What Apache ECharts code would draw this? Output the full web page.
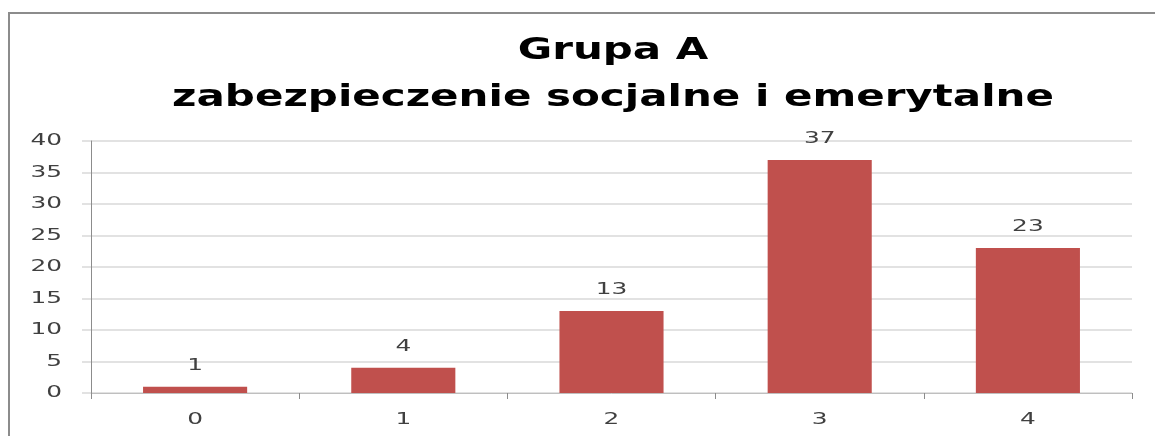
<!DOCTYPE html>
<html><head><meta charset="utf-8">
<script src="https://cdn.jsdelivr.net/npm/echarts@6/dist/echarts.min.js"></script>
<style>html,body{margin:0;padding:0;background:#fff}#c{width:1155px;height:436px}</style>
</head><body><div id="c"></div>
<script>
const titleLines = ["Grupa A", "zabezpieczenie socjalne i emerytalne"];
const categories = ["0", "1", "2", "3", "4"];
const values = [1, 4, 13, 37, 23];
const yTicks = [0, 5, 10, 15, 20, 25, 30, 35, 40];

const FONT = 'DejaVu Sans';
const LABEL_COLOR = '#404040';
const STRETCH = 1.55;

const chart = echarts.init(document.getElementById('c'));
chart.setOption({
  animation: false,
  backgroundColor: '#fff',
  grid: { left: 91, right: 23, top: 141, bottom: 43 },
  xAxis: {
    type: 'category', data: categories,
    axisLine: { lineStyle: { color: '#bfbfbf', width: 1 } },
    axisTick: { show: true, length: 6, lineStyle: { color: '#8c8c8c' } },
    axisLabel: { show: false }
  },
  yAxis: {
    type: 'value', min: yTicks[0], max: yTicks[yTicks.length - 1], interval: 5,
    axisLine: { show: true, lineStyle: { color: '#8c8c8c' } },
    axisTick: { show: true, length: 9, lineStyle: { color: '#d9d9d9', width: 1.5 } },
    axisLabel: { show: false },
    splitLine: { lineStyle: { color: '#d9d9d9', width: 1.5 } }
  },
  series: [{
    type: 'bar', data: values, barWidth: '50%',
    itemStyle: { color: '#c0504d' }
  }]
});

// Text in the reference is horizontally stretched; draw it as real text with scaleX,
// placed through the chart's own scales.
const g = [
  { type: 'line', shape: { x1: 9, y1: 13, x2: 9, y2: 436 }, style: { stroke: '#8c8c8c', lineWidth: 2 } },
  { type: 'line', shape: { x1: 8, y1: 13, x2: 1155, y2: 13 }, style: { stroke: '#8c8c8c', lineWidth: 2 } }
];
const titleY = [51, 98];
titleLines.forEach((t, i) => g.push({
  type: 'text', x: 613, y: titleY[i], scaleX: 1.40,
  style: { text: t, font: 'bold 30px "' + FONT + '"', fill: '#000', align: 'center', verticalAlign: 'middle' }
}));
yTicks.forEach(t => {
  const py = chart.convertToPixel({ yAxisIndex: 0 }, t);
  g.push({ type: 'text', x: 62, y: py, scaleX: STRETCH,
    style: { text: String(t), font: '16px "' + FONT + '"', fill: LABEL_COLOR, align: 'right', verticalAlign: 'middle' } });
});
categories.forEach((c, i) => {
  const px = chart.convertToPixel({ xAxisIndex: 0 }, c);
  g.push({ type: 'text', x: px, y: 420, scaleX: STRETCH,
    style: { text: c, font: '16px "' + FONT + '"', fill: LABEL_COLOR, align: 'center', verticalAlign: 'middle' } });
  const top = chart.convertToPixel({ xAxisIndex: 0, yAxisIndex: 0 }, [c, values[i]]);
  g.push({ type: 'text', x: top[0], y: top[1] - 21, scaleX: STRETCH,
    style: { text: String(values[i]), font: '16px "' + FONT + '"', fill: LABEL_COLOR, align: 'center', verticalAlign: 'middle' } });
});
chart.setOption({ graphic: g });
</script></body></html>
